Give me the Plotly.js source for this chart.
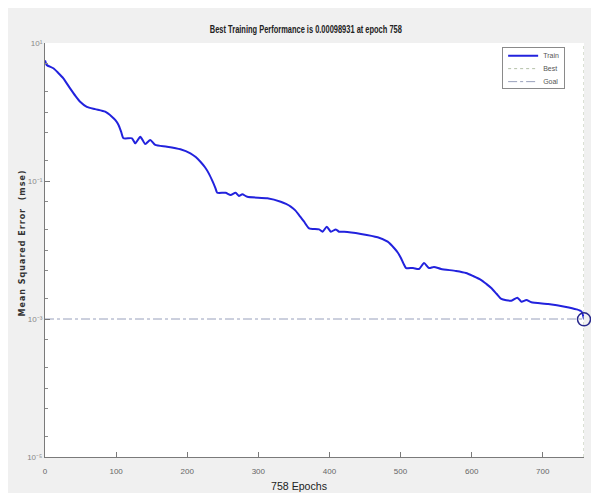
<!DOCTYPE html>
<html>
<head>
<meta charset="utf-8">
<script src="https://cdn.plot.ly/plotly-3.0.1.min.js"></script>
<style>
  html, body { margin: 0; padding: 0; background: #ffffff; }
  #chart { position: absolute; left: 8px; top: 8px; width: 583px; height: 485px; }
</style>
</head>
<body>
<div id="chart"></div>
<script>
// ---- data ----
const epochs = [0, 2.4, 11.7, 19, 25.8, 35.3, 43, 49.4, 58.8, 70.5, 84.6, 94.1, 99, 103.4, 107, 110.4, 122.3, 126.9, 134, 141, 148, 155,
  171.6, 190.4, 204.5, 212, 218.6, 225, 230.3, 236, 239.8, 242.2, 253.9, 261, 268, 272.7, 277.5, 284.5, 312.7, 331.5, 339, 345.6, 352, 357.3,
  364.4, 371.4, 385.5, 390.3, 396.3, 402, 409, 413.7, 420.7, 444.3, 467.8, 481.9, 491.2, 496, 500.7, 504, 507.8, 517.6, 526,
  533, 540, 547, 557, 578, 592, 602, 613.5, 621, 627.6, 635, 641.7, 655.8, 664.3, 670, 677, 684, 707.6, 731, 747.5, 754.6, 758];
const mse = [5.6, 4.80, 4.30, 3.65, 3.08, 2.20, 1.70, 1.41, 1.19, 1.10, 1.01, 0.855, 0.76, 0.649, 0.52, 0.416, 0.416, 0.351, 0.438, 0.343, 0.393, 0.333,
  0.314, 0.288, 0.252, 0.222, 0.190, 0.158, 0.129, 0.097, 0.0784, 0.0676, 0.0676, 0.0627, 0.0676, 0.0607, 0.0641, 0.0591, 0.0561, 0.0501, 0.0465, 0.0425, 0.0375, 0.0321,
  0.0257, 0.0206, 0.0199, 0.0184, 0.0218, 0.0184, 0.0199, 0.0184, 0.0184, 0.0171, 0.0153, 0.0132, 0.0106, 0.0092, 0.00759, 0.0064, 0.00548, 0.00548, 0.00531,
  0.00649, 0.00548, 0.00568, 0.00531, 0.00497, 0.00465, 0.00420, 0.00367, 0.0032, 0.00281, 0.00232, 0.00195, 0.00184, 0.00204, 0.00178, 0.00188, 0.00175, 0.00165, 0.00151, 0.00138, 0.00128, 0.00098931];
const bestEpoch = 758;
const bestPerf = 0.00098931;
const goal = 0.001;
const yRangeVals = [1e-5, 1e1];
const xTickVals = [0, 100, 200, 300, 400, 500, 600, 700];
const yTickVals = [1e1, 1e-1, 1e-3, 1e-5];
const yTickText = ['10¹', '10⁻¹', '10⁻³', '10⁻⁵'];
const titleText = 'Best Training Performance is 0.00098931 at epoch 758';
const xTitle = '758 Epochs';
const yTitle = 'Mean Squared Error  (mse)';
const legendNames = ['Train', 'Best', 'Goal'];

const sans = 'Liberation Sans, Arial, sans-serif';

const traces = [
  {
    x: epochs, y: mse, name: legendNames[0], type: 'scatter', mode: 'lines',
    line: { color: '#2222dd', width: 2, shape: 'spline', smoothing: 0.6 }
  },
  {
    x: [bestEpoch, bestEpoch], y: yRangeVals, name: legendNames[1], type: 'scatter', mode: 'lines',
    line: { color: '#b4c0a8', width: 1, dash: 'dot' }
  },
  {
    x: [0, bestEpoch], y: [goal, goal], name: legendNames[2], type: 'scatter', mode: 'lines',
    line: { color: '#98a0bc', width: 1, dash: 'dashdot' }
  },
  {
    x: [bestEpoch], y: [bestPerf], type: 'scatter', mode: 'markers', showlegend: false, cliponaxis: false,
    marker: { symbol: 'circle-open', size: 13, color: '#28288c', line: { width: 1.5, color: '#28288c' } }
  }
];

const layout = {
  width: 583, height: 485,
  margin: { l: 37, r: 7, t: 35, b: 36 },
  paper_bgcolor: '#f0f0f0',
  plot_bgcolor: '#ffffff',
  showlegend: true,
  title: {
    text: titleText,
    font: { family: sans, size: 10, color: '#222', weight: 'bold' },
    x: 0.511, xref: 'container', y: 0.952, yref: 'container', yanchor: 'middle'
  },
  xaxis: {
    range: [0, bestEpoch], showgrid: false, zeroline: false,
    showline: true, linecolor: '#7a7a7a', linewidth: 1, mirror: false,
    tickvals: xTickVals, ticks: 'inside', ticklen: 5, tickcolor: '#7a7a7a',
    tickfont: { family: sans, size: 8, color: '#666' },
    ticklabelstandoff: 6,
    title: { text: xTitle, font: { family: sans, size: 10, color: '#222' }, standoff: 6 }
  },
  yaxis: {
    type: 'log', range: [-5, 1], showgrid: false, zeroline: false,
    showline: true, linecolor: '#7a7a7a', linewidth: 1, mirror: false,
    tickvals: yTickVals, ticktext: yTickText, ticks: 'inside', ticklen: 5, tickcolor: '#7a7a7a',
    tickfont: { family: sans, size: 8, color: '#888' },
    minor: { ticks: 'inside', ticklen: 3, tickcolor: '#8a8a8a', dtick: 'D2', showgrid: false },
    title: { text: yTitle, font: { family: 'DejaVu Sans, sans-serif', size: 8, color: '#333', weight: 'bold' }, standoff: 8 }
  },
  legend: {
    x: 0.965, xanchor: 'right', y: 0.99, yanchor: 'top',
    bgcolor: '#ffffff', bordercolor: '#8a8a8a', borderwidth: 1,
    font: { family: sans, size: 7, color: '#555' },
    tracegroupgap: 0, itemwidth: 30
  }
};

Plotly.newPlot('chart', traces, layout, { displayModeBar: false, staticPlot: true }).then(function () {
  function fit(el, len, adjust) {
    if (!el) return;
    el.setAttribute('textLength', len);
    el.setAttribute('lengthAdjust', adjust);
  }
  function placeCenter(el, cx, cy) {
    if (!el) return;
    var r = el.getBoundingClientRect();
    var dx = cx - (r.left + r.width / 2);
    var dy = cy - (r.top + r.height / 2);
    var t = el.getAttribute('transform') || '';
    el.setAttribute('transform', 'translate(' + dx + ',' + dy + ') ' + t);
  }
  var title = document.querySelector('text.gtitle');
  fit(title, 192, 'spacingAndGlyphs');
  placeCenter(title, 306, 30);

  var xt = document.querySelector('text.xtitle');
  fit(xt, 56, 'spacingAndGlyphs');
  placeCenter(xt, 299, 487);

  var yt = document.querySelector('text.ytitle');
  if (yt) yt.style.letterSpacing = '1px';
  placeCenter(yt, 22, 243);

  // tighten legend row spacing to match the reference
  var items = Array.prototype.slice.call(document.querySelectorAll('g.legend g.traces'));
  if (items.length > 1) {
    var ys = items.map(function (g) {
      var m = /translate\(\s*([-\d.]+)[ ,]+([-\d.]+)\s*\)/.exec(g.getAttribute('transform') || '');
      return m ? [parseFloat(m[1]), parseFloat(m[2])] : [0, 0];
    });
    var step = 13;
    items.forEach(function (g, i) {
      g.setAttribute('transform', 'translate(' + ys[i][0] + ',' + (ys[0][1] - 7 + i * step) + ')');
    });
    var bg = document.querySelector('g.legend rect.bg');
    if (bg) bg.setAttribute('height', 41);
  }
});
</script>
</body>
</html>
